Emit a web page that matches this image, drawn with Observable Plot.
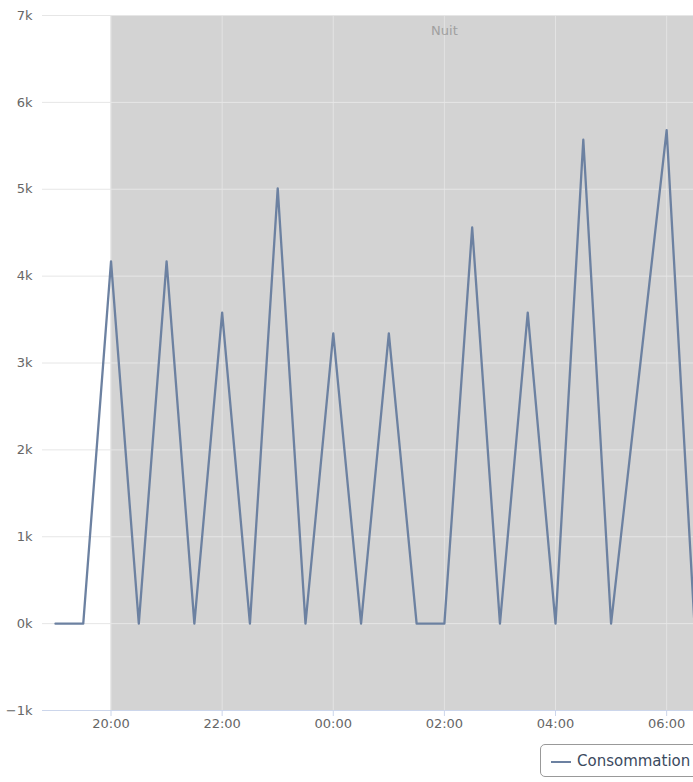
<!DOCTYPE html>
<html>
<head>
<meta charset="utf-8">
<script src="https://cdn.jsdelivr.net/npm/d3@7"></script>
<script src="https://cdn.jsdelivr.net/npm/@observablehq/plot@0.6"></script>
<style>
  html, body { margin: 0; padding: 0; background: #fff; }
  #wrap { width: 693px; height: 782px; overflow: hidden; position: relative; font-family: "DejaVu Sans", sans-serif; }
  #legend { position: absolute; left: 540px; top: 744px; width: 170px; height: 31px; border: 1px solid #999; border-radius: 5px; box-sizing: content-box; }
  #legend .sym { position: absolute; left: 10px; top: 16px; width: 20px; height: 2px; background: #6c81a1; }
  #legend .lab { position: absolute; left: 36px; top: 7px; font-size: 15px; color: #3b4a60; white-space: nowrap; }
</style>
</head>
<body>
<div id="wrap">
  <div id="chart"></div>
  <div id="legend"><div class="sym"></div><div class="lab">Consommation</div></div>
</div>
<script>
const times = [
  "2024-01-01T19:00", "2024-01-01T19:30", "2024-01-01T20:00", "2024-01-01T20:30",
  "2024-01-01T21:00", "2024-01-01T21:30", "2024-01-01T22:00", "2024-01-01T22:30",
  "2024-01-01T23:00", "2024-01-01T23:30", "2024-01-02T00:00", "2024-01-02T00:30",
  "2024-01-02T01:00", "2024-01-02T01:30", "2024-01-02T02:00", "2024-01-02T02:30",
  "2024-01-02T03:00", "2024-01-02T03:30", "2024-01-02T04:00", "2024-01-02T04:30",
  "2024-01-02T05:00", "2024-01-02T06:00", "2024-01-02T06:30"
];
const consommation = [
  0, 0, 4170, 0,
  4170, 0, 3580, 0,
  5010, 0, 3340, 0,
  3340, 0, 0, 4560,
  0, 3580, 0, 5570,
  0, 5680, 0
];
const bandStart = "2024-01-01T20:00";
const bandEnd = "2024-01-02T08:00";
const bandLabel = "Nuit";
const bandLabelAt = "2024-01-02T02:00";
const yTicks = [-1000, 0, 1000, 2000, 3000, 4000, 5000, 6000, 7000];
const xDomain = ["2024-01-01T18:46:00", "2024-01-02T06:29:00"];

const parse = s => new Date(s + "Z");
const data = times.map((t, i) => ({ t: parse(t), v: consommation[i] }));
const band = [{ x1: parse(bandStart), x2: parse(bandEnd) }];
const xTicks = d3.utcHour.every(2).range(parse(xDomain[0]), parse(xDomain[1]));

const chart = Plot.plot({
  width: 693,
  height: 730,
  marginLeft: 42,
  marginRight: 0,
  marginTop: 15,
  marginBottom: 20,
  style: { fontFamily: "DejaVu Sans, sans-serif", fontSize: "13px", color: "#666" },
  x: { type: "utc", domain: xDomain.map(parse) },
  y: { domain: [-1000, 7000] },
  marks: [
    Plot.rect(band, { x1: "x1", x2: "x2", y1: -1000, y2: 7000, fill: "#d3d3d3", clip: true }),
    Plot.gridY(yTicks, { stroke: "#e6e6e6", strokeOpacity: 1 }),
    Plot.gridX(xTicks, { stroke: "#e6e6e6", strokeOpacity: 0.8 }),
    Plot.ruleY([-1000], { stroke: "#ccd6eb" }),
    Plot.axisY(yTicks, { tickSize: 0, tickPadding: 10, fontSize: 13, tickFormat: d => (d < 0 ? "−" : "") + Math.abs(d / 1000) + "k", fill: "#666", label: null }),
    Plot.axisX(xTicks, { tickSize: 6, tickPadding: 2, fontSize: 13, stroke: "#ccd6eb", tickFormat: d3.utcFormat("%H:%M"), fill: "#666", label: null }),
    Plot.text([bandLabel], { x: parse(bandLabelAt), y: 7000, dy: 15, text: d => d, fill: "#a0a0a0", fontSize: 13 }),
    Plot.line(data, { x: "t", y: "v", stroke: "#6c81a1", strokeWidth: 2.3, clip: true, curve: "linear" })
  ]
});
document.getElementById("chart").appendChild(chart);
</script>
</body>
</html>
